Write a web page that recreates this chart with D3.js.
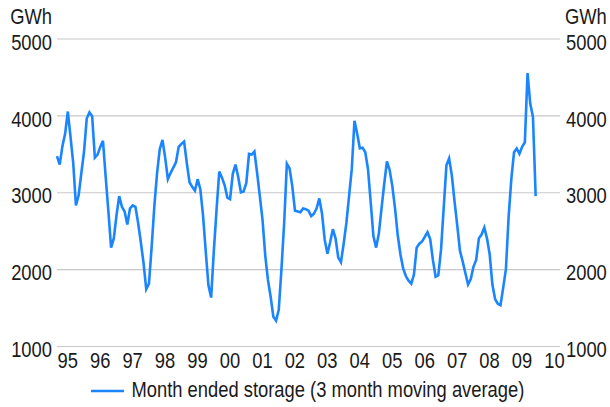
<!DOCTYPE html>
<html>
<head>
<meta charset="utf-8">
<script src="https://cdn.jsdelivr.net/npm/d3@7"></script>
<style>
  html, body { margin: 0; padding: 0; background: #fff; }
  svg { display: block; }
  text { font-family: 'Liberation Sans', Arial, sans-serif; fill: #1a1a1a; }
</style>
</head>
<body>
<svg id="chart" width="610" height="407"></svg>
<script>
// Monthly data, first value = January 1995
const startYear = 1995;
const storage = [
  3470, 3360, 3600, 3760, 4050, 3720, 3380, 2830, 2960, 3250, 3530, 3960,
  4040, 3990, 3450, 3490, 3590, 3670, 3200, 2750, 2280, 2400, 2700, 2950,
  2810, 2750, 2580, 2790, 2830, 2810, 2600, 2350, 2080, 1740, 1810, 2290,
  2820, 3250, 3560, 3680, 3450, 3170, 3250, 3320, 3390, 3590, 3630, 3660,
  3380, 3130, 3070, 3020, 3170, 3040, 2700, 2230, 1790, 1630, 2240, 2770,
  3270, 3190, 3090, 2930, 2910, 3240, 3360, 3200, 3000, 3010, 3120, 3500,
  3490, 3530, 3250, 2950, 2640, 2180, 1860, 1640, 1380, 1330, 1470, 2000,
  2600, 3370, 3310, 3080, 2760, 2750, 2740, 2790, 2780, 2760, 2690, 2720,
  2790, 2920, 2720, 2380, 2200, 2350, 2520, 2400, 2150, 2090, 2330, 2600,
  2950, 3300, 3930, 3760, 3570, 3580, 3520, 3300, 2870, 2430, 2280, 2460,
  2790, 3110, 3400, 3290, 3080, 2790, 2440, 2190, 2010, 1910, 1850, 1810,
  1930, 2280, 2330, 2360, 2420, 2480, 2390, 2120, 1900, 1920, 2250, 2800,
  3350, 3440, 3220, 2880, 2570, 2240, 2100, 1950, 1800, 1870, 2030, 2120,
  2400, 2450, 2540, 2400, 2190, 1800, 1610, 1550, 1530, 1760, 2000, 2680,
  3170, 3520, 3570, 3500, 3590, 3650, 4550, 4150, 3980, 2950
];
const yearTicks = [1995, 1996, 1997, 1998, 1999, 2000, 2001, 2002, 2003, 2004, 2005, 2006, 2007, 2008, 2009, 2010];
const yTicks = [1000, 2000, 3000, 4000, 5000];
const unitLabel = "GWh";
const seriesName = "Month ended storage (3 month moving average)";

const svg = d3.select("#chart");
const mLeft = 57, mRight = 560, mTop = 38.5, mBottom = 346;
const fs = 22;
const narrowK = 0.835;

// condense text horizontally (narrow typeface look)
function narrow(sel) {
  sel.each(function () {
    const t = d3.select(this);
    const tx = +t.attr("x") || 0, ty = +t.attr("y") || 0;
    t.attr("x", 0).attr("y", 0)
      .attr("transform", `translate(${tx},${ty}) scale(${narrowK},1)`);
  });
}

const x = d3.scaleLinear().domain([1995, 2010.5]).range([mLeft, mRight]);
const y = d3.scaleLinear().domain([1000, 5000]).range([mBottom, mTop]);

const data = storage.map((v, i) => ({ t: startYear + i / 12, v }));

// Left axis with gridlines
const gL = svg.append("g").attr("transform", `translate(${mLeft},0)`)
  .call(d3.axisLeft(y).tickValues(yTicks).tickFormat(d3.format("d"))
    .tickSize(-(mRight - mLeft)).tickPadding(5));
gL.select(".domain").remove();
gL.selectAll(".tick line").attr("stroke", "#c8c8c8").attr("stroke-width", 1.2);
gL.selectAll(".tick text").attr("font-size", fs).attr("dy", null).attr("y", 10.7).attr("fill", "#1a1a1a").call(narrow);

// Right axis
const gR = svg.append("g").attr("transform", `translate(${mRight},0)`)
  .call(d3.axisRight(y).tickValues(yTicks).tickFormat(d3.format("d"))
    .tickSize(0).tickPadding(6));
gR.select(".domain").remove();
gR.selectAll(".tick text").attr("font-size", fs).attr("dy", null).attr("y", 10.7).attr("fill", "#1a1a1a").call(narrow);

// X axis
const gX = svg.append("g").attr("transform", `translate(0,${mBottom})`)
  .call(d3.axisBottom(x).tickValues(yearTicks)
    .tickFormat(d => String(d % 100).padStart(2, "0")).tickSize(0));
gX.select(".domain").remove();
gX.selectAll(".tick text").attr("font-size", fs).attr("dy", null).attr("y", 22.3)
  .attr("text-anchor", "start").attr("x", 0).attr("fill", "#1a1a1a").call(narrow);

// Unit labels
svg.append("text").attr("x", 52).attr("y", 24).attr("text-anchor", "end")
  .attr("font-size", fs).text(unitLabel).call(narrow);
svg.append("text").attr("x", 565).attr("y", 24).attr("text-anchor", "start")
  .attr("font-size", fs).text(unitLabel).call(narrow);

// Line
const line = d3.line().x(d => x(d.t)).y(d => y(d.v));
svg.append("path").datum(data)
  .attr("fill", "none").attr("stroke", "#1a85ff").attr("stroke-width", 2.6)
  .attr("stroke-linejoin", "miter").attr("d", line);

// Legend
svg.append("line").attr("x1", 91).attr("x2", 124).attr("y1", 391).attr("y2", 391)
  .attr("stroke", "#1a85ff").attr("stroke-width", 2.6);
svg.append("text").attr("x", 131.5).attr("y", 397.3).attr("font-size", fs).text(seriesName).call(narrow);
</script>
</body>
</html>
